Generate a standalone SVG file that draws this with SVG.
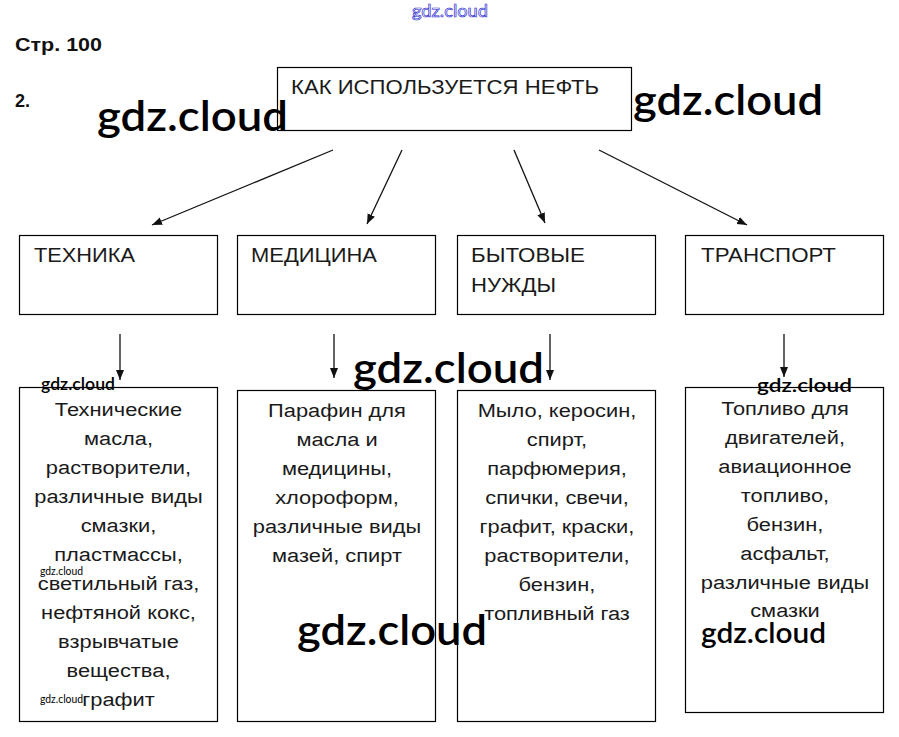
<svg xmlns="http://www.w3.org/2000/svg" width="899" height="737" viewBox="0 0 899 737">
<defs>
<style>
.box{fill:#fff;stroke:#000;stroke-width:1.2}
.lbl{font-family:"Liberation Sans",Arial,sans-serif;font-size:20px;fill:#1a1a1a}
.lst{font-family:"Liberation Sans",Arial,sans-serif;font-size:19px;fill:#1a1a1a;text-anchor:middle}
.hd{font-family:"Liberation Sans",Arial,sans-serif;font-weight:bold;font-size:18px;fill:#111}
.wm{font-family:Lato,"Open Sans",sans-serif;font-weight:600;fill:#000}
.con{stroke:#111;stroke-width:1.3;fill:none}
</style>
<marker id="ah" viewBox="0 0 10 10" refX="10" refY="5" markerWidth="10" markerHeight="10" markerUnits="userSpaceOnUse" orient="auto">
<path d="M0,1 L10,5 L0,9 Z" fill="#111"/>
</marker>
</defs>
<rect width="899" height="737" fill="#fff"/>

<text class="hd" x="15" y="51" textLength="87" lengthAdjust="spacingAndGlyphs">Стр. 100</text>
<text class="hd" x="15" y="107">2.</text>

<g id="root">
<rect class="box" x="277.5" y="67.5" width="354" height="63"/>
<text class="lbl" x="291" y="94" font-size="19" textLength="308" lengthAdjust="spacingAndGlyphs">КАК ИСПОЛЬЗУЕТСЯ НЕФТЬ</text>
</g>

<g id="cat-tech">
<rect class="box" x="19.5" y="235.5" width="198" height="79"/>
<text class="lbl" x="34" y="262" textLength="101" lengthAdjust="spacingAndGlyphs">ТЕХНИКА</text>
</g>
<g id="cat-med">
<rect class="box" x="237.5" y="235.5" width="198" height="79"/>
<text class="lbl" x="251" y="262" textLength="126" lengthAdjust="spacingAndGlyphs">МЕДИЦИНА</text>
</g>
<g id="cat-home">
<rect class="box" x="457.5" y="235.5" width="198" height="79"/>
<text class="lbl" x="471" y="262" textLength="114" lengthAdjust="spacingAndGlyphs">БЫТОВЫЕ</text>
<text class="lbl" x="471" y="292" textLength="85" lengthAdjust="spacingAndGlyphs">НУЖДЫ</text>
</g>
<g id="cat-trans">
<rect class="box" x="685.5" y="235.5" width="198" height="79"/>
<text class="lbl" x="701" y="262" textLength="135" lengthAdjust="spacingAndGlyphs">ТРАНСПОРТ</text>
</g>

<g id="list-tech">
<rect class="box" x="19.5" y="387.5" width="198" height="334"/>
<g transform="translate(118.5,0) scale(1.15,1)">
<text class="lst" x="0" y="416">Технические</text>
<text class="lst" x="0" y="445">масла,</text>
<text class="lst" x="0" y="474">растворители,</text>
<text class="lst" x="0" y="503">различные виды</text>
<text class="lst" x="0" y="532">смазки,</text>
<text class="lst" x="0" y="561">пластмассы,</text>
<text class="lst" x="0" y="590">светильный газ,</text>
<text class="lst" x="0" y="619">нефтяной кокс,</text>
<text class="lst" x="0" y="648">взрывчатые</text>
<text class="lst" x="0" y="677">вещества,</text>
<text class="lst" x="0" y="706">графит</text>
</g>
</g>
<g id="list-med">
<rect class="box" x="237.5" y="390.5" width="198" height="331"/>
<g transform="translate(337,0) scale(1.15,1)">
<text class="lst" x="0" y="417">Парафин для</text>
<text class="lst" x="0" y="446">масла и</text>
<text class="lst" x="0" y="475">медицины,</text>
<text class="lst" x="0" y="504">хлороформ,</text>
<text class="lst" x="0" y="533">различные виды</text>
<text class="lst" x="0" y="562">мазей, спирт</text>
</g>
</g>
<g id="list-home">
<rect class="box" x="457.5" y="390.5" width="198" height="331"/>
<g transform="translate(557,0) scale(1.15,1)">
<text class="lst" x="0" y="417">Мыло, керосин,</text>
<text class="lst" x="0" y="446">спирт,</text>
<text class="lst" x="0" y="475">парфюмерия,</text>
<text class="lst" x="0" y="504">спички, свечи,</text>
<text class="lst" x="0" y="533">графит, краски,</text>
<text class="lst" x="0" y="562">растворители,</text>
<text class="lst" x="0" y="591">бензин,</text>
<text class="lst" x="0" y="620">топливный газ</text>
</g>
</g>
<g id="list-trans">
<rect class="box" x="685.5" y="387.5" width="198" height="325"/>
<g transform="translate(785,0) scale(1.15,1)">
<text class="lst" x="0" y="415">Топливо для</text>
<text class="lst" x="0" y="444">двигателей,</text>
<text class="lst" x="0" y="473">авиационное</text>
<text class="lst" x="0" y="502">топливо,</text>
<text class="lst" x="0" y="531">бензин,</text>
<text class="lst" x="0" y="560">асфальт,</text>
<text class="lst" x="0" y="589">различные виды</text>
<text class="lst" x="0" y="617">смазки</text>
</g>
</g>

<g id="connectors">
<line class="con" x1="333" y1="150" x2="152" y2="225" marker-end="url(#ah)"/>
<line class="con" x1="402" y1="150" x2="367" y2="224" marker-end="url(#ah)"/>
<line class="con" x1="514" y1="150" x2="545" y2="223" marker-end="url(#ah)"/>
<line class="con" x1="599" y1="150" x2="747" y2="225" marker-end="url(#ah)"/>
<line class="con" x1="120" y1="334" x2="120" y2="380" marker-end="url(#ah)"/>
<line class="con" x1="334" y1="334" x2="334" y2="378" marker-end="url(#ah)"/>
<line class="con" x1="550" y1="334" x2="550" y2="380" marker-end="url(#ah)"/>
<line class="con" x1="784" y1="334" x2="784" y2="377" marker-end="url(#ah)"/>
</g>

<g id="watermarks">
<text x="412" y="17" font-family="Lato,sans-serif" font-size="18" fill="#fff" stroke="#2a2ad0" stroke-width="0.7" textLength="76" lengthAdjust="spacingAndGlyphs">gdz.cloud</text>
<text class="wm" x="97" y="131" font-size="42" textLength="191" lengthAdjust="spacingAndGlyphs">gdz.cloud</text>
<text class="wm" x="633" y="115" font-size="42" textLength="190" lengthAdjust="spacingAndGlyphs">gdz.cloud</text>
<text class="wm" x="353" y="383" font-size="42" textLength="191" lengthAdjust="spacingAndGlyphs">gdz.cloud</text>
<text class="wm" x="297" y="645" font-size="42" textLength="190" lengthAdjust="spacingAndGlyphs">gdz.cloud</text>
<text class="wm" x="701" y="643" font-size="28" textLength="125" lengthAdjust="spacingAndGlyphs">gdz.cloud</text>
<text class="wm" x="41" y="390" font-size="17" font-weight="bold" textLength="74" lengthAdjust="spacingAndGlyphs">gdz.cloud</text>
<text class="wm" x="757" y="392" font-size="20" font-weight="bold" textLength="95" lengthAdjust="spacingAndGlyphs">gdz.cloud</text>
<text x="40" y="575" font-family="Lato,sans-serif" font-size="11" fill="#000" textLength="43" lengthAdjust="spacingAndGlyphs">gdz.cloud</text>
<text x="40" y="703" font-family="Lato,sans-serif" font-size="11" fill="#000" textLength="43" lengthAdjust="spacingAndGlyphs">gdz.cloud</text>
</g>
</svg>
